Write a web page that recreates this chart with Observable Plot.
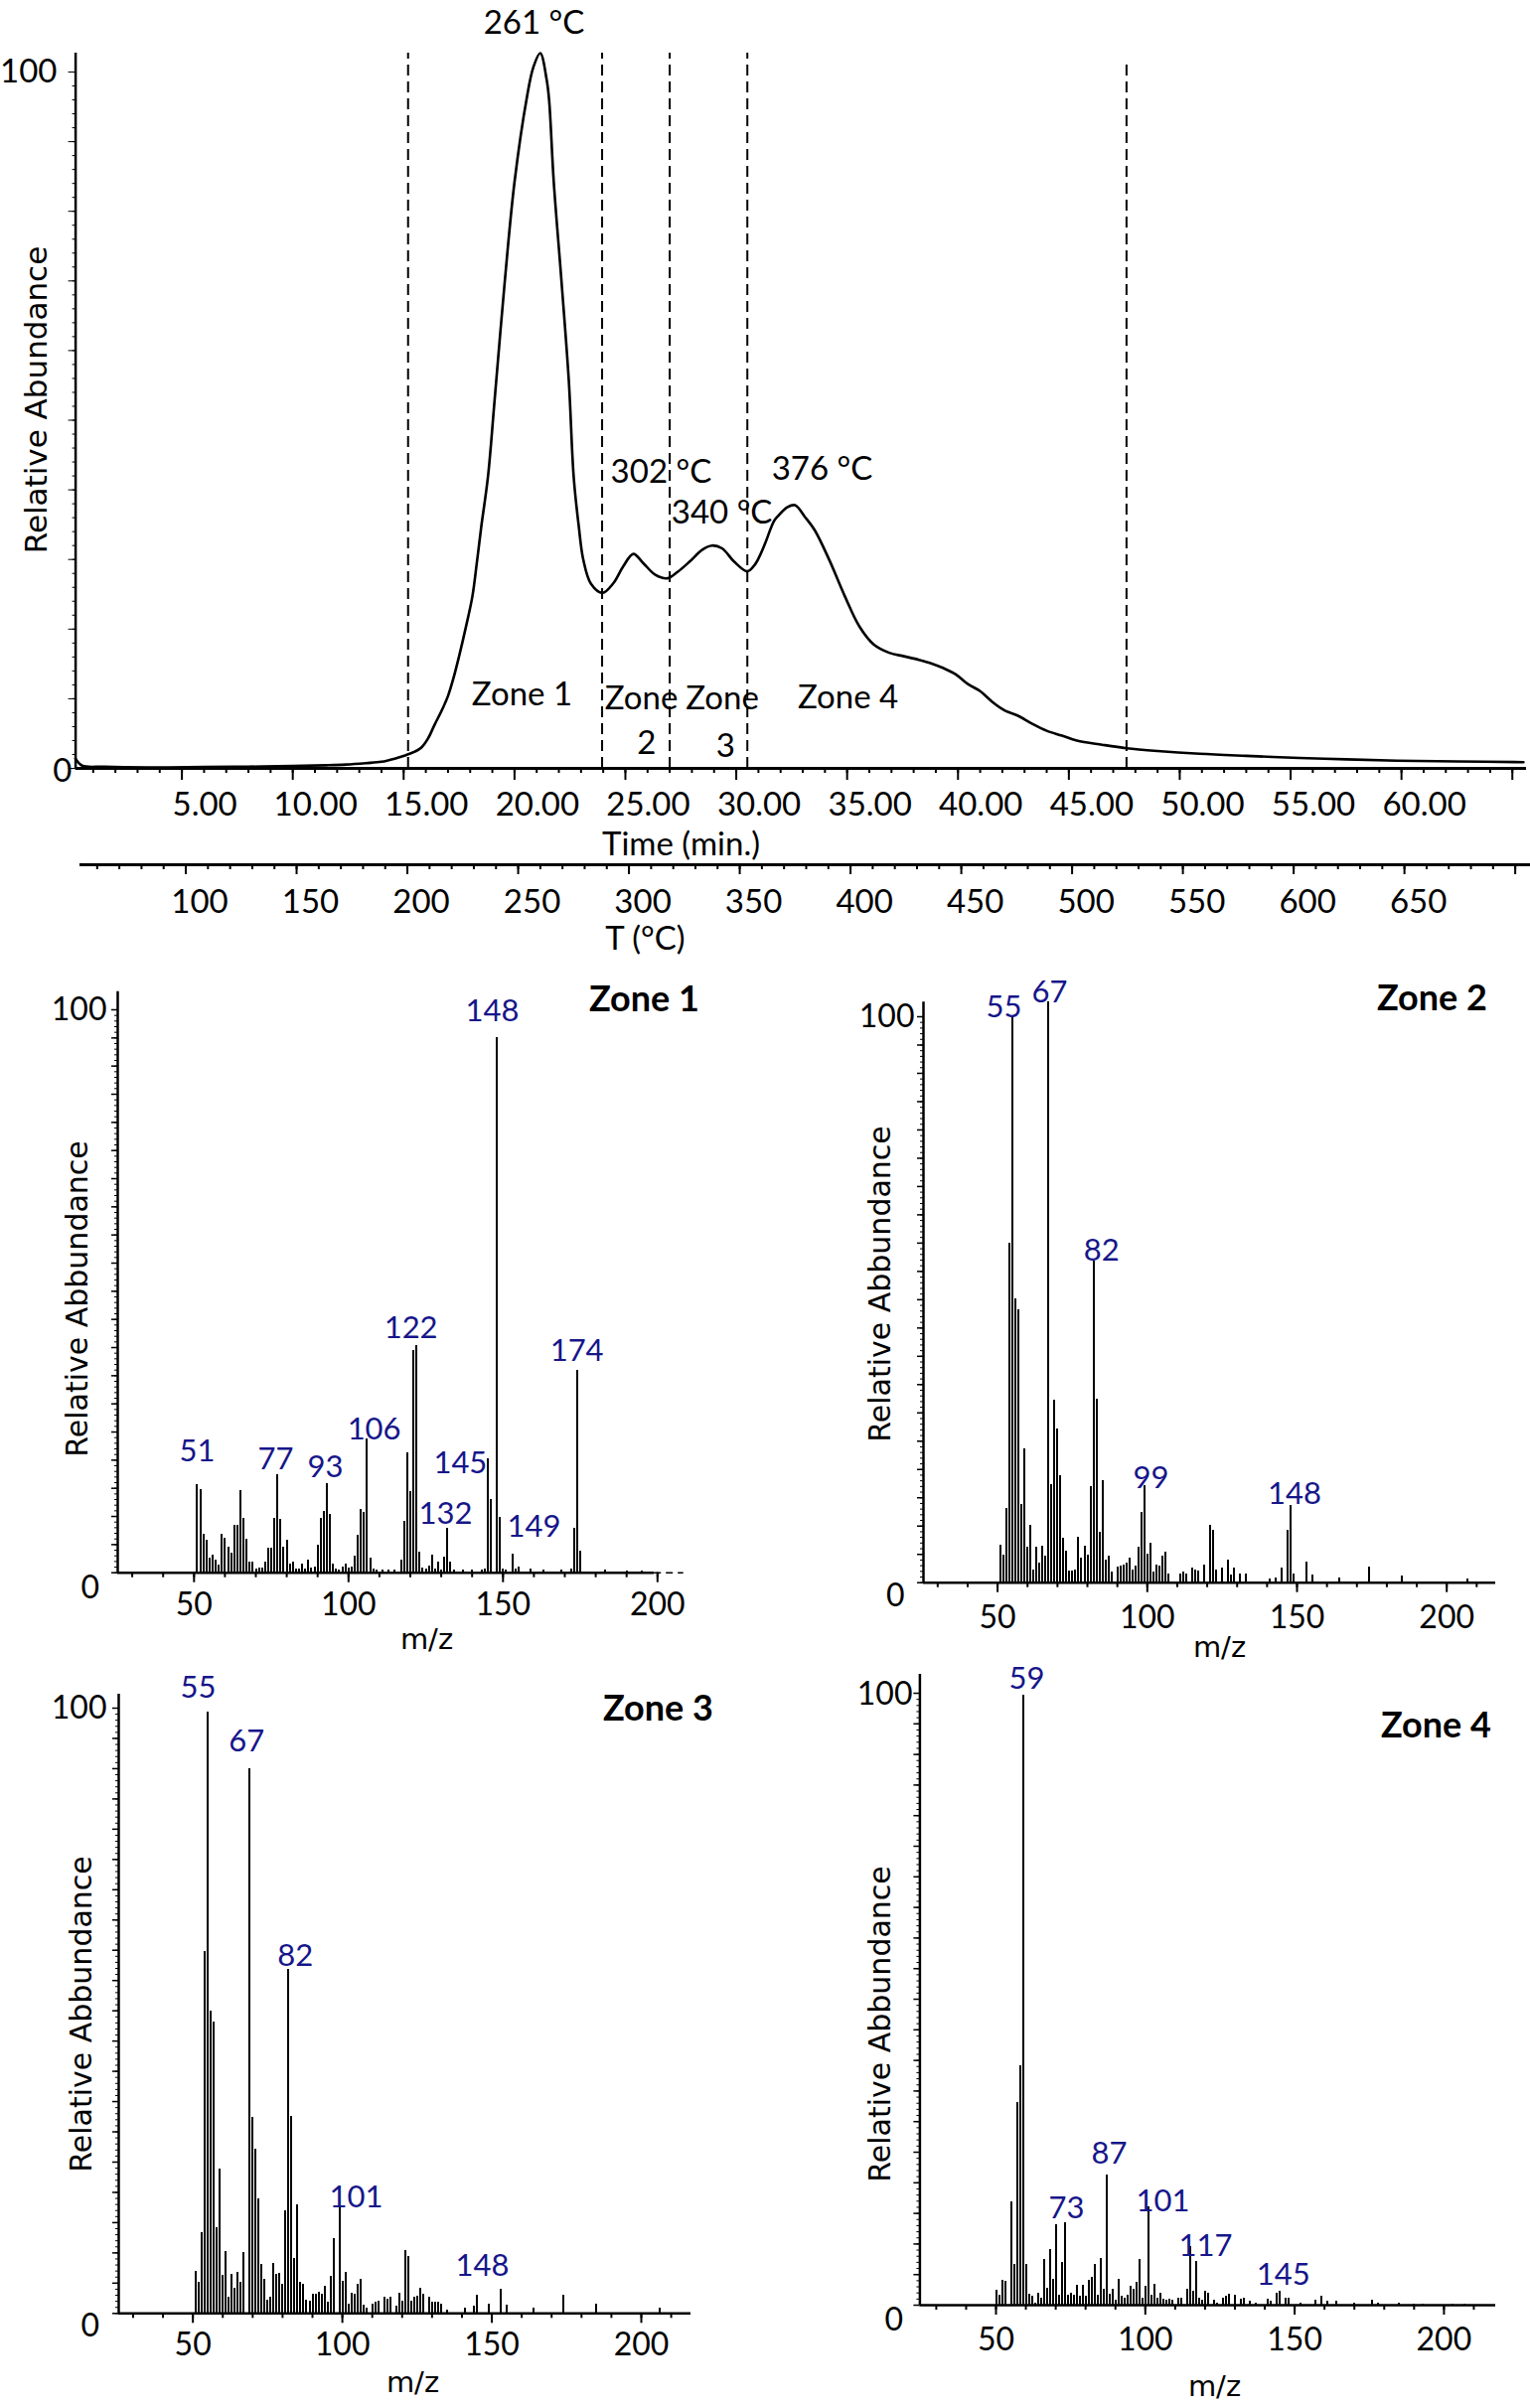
<!DOCTYPE html>
<html><head><meta charset="utf-8">
<script src="https://cdn.jsdelivr.net/npm/d3@7"></script>
<script src="https://cdn.jsdelivr.net/npm/@observablehq/plot@0.6"></script>
<style>
body{margin:0;background:#fff}
#root{position:relative;width:1540px;height:2424px;background:#fff;overflow:hidden}
</style></head><body><div id="root"></div>
<script>
// ---------------- DATA ----------------
// Thermogram (relative abundance vs time)
const chromTime = [0.2,0.5,1.5,3.5,6,8,10,11.5,12.4,13.3,14.0,14.6,15.1,15.5,15.8,16.1,16.4,16.7,17.0,17.25,17.5,17.8,18.1,18.3,18.5,18.8,19.1,19.56,20.0,20.56,20.85,21.16,21.45,21.56,21.77,22.12,22.45,22.67,22.9,23.1,23.45,23.97,24.46,24.9,25.36,25.8,26.35,26.9,27.35,27.9,28.47,28.9,29.36,29.9,30.5,30.85,31.1,31.3,31.7,31.9,32.3,32.65,33.1,33.54,34.2,34.9,35.55,36.2,36.9,37.56,38.23,38.78,39.34,39.9,40.45,41.0,41.57,42.12,42.68,43.35,44.0,44.69,45.36,46.5,47.6,49.0,50.9,53.0,55.4,57.5,59.8,62.5,65.5];
const chromAbund = [1.4,0.4,0.25,0.15,0.2,0.25,0.35,0.45,0.55,0.75,0.95,1.4,1.9,2.4,3.0,4.3,6.3,8.2,10.4,13.0,16.1,20.2,24.7,29.5,34.7,41.8,52.8,69.9,84.2,96.4,100.7,102.7,98.9,96.0,84.2,69.9,55.6,41.8,34.7,30.0,26.5,25.2,26.6,29.0,30.8,29.5,27.8,27.3,28.2,29.7,31.4,32.0,31.6,29.7,28.3,29.3,30.8,32.3,35.5,36.3,37.5,37.8,36.1,34.2,29.9,24.7,20.4,17.8,16.6,16.1,15.6,15.1,14.4,13.5,12.1,11.1,9.5,8.3,7.6,6.4,5.4,4.7,4.0,3.4,2.9,2.5,2.1,1.8,1.5,1.3,1.1,1.0,0.9];
const zoneBoundTime = [15.2, 23.95, 27.0, 30.5, 47.6];
const zoneBoundTop  = [102.7, 102.7, 102.7, 102.7, 101.0];
const peakTempText = ["261 °C","302 °C","340 °C","376 °C"];
const peakTempTime = [20.88, 26.61, 29.35, 33.87];
const peakTempAbund = [107.0, 42.5, 36.7, 42.9];
const zoneNoteText = ["Zone 1","Zone","2","Zone","3","Zone 4"];
const zoneNoteTime = [20.34, 25.72, 25.96, 29.37, 29.52, 35.04];
const zoneNoteAbund = [10.56, 10.06, 3.57, 10.06, 3.14, 10.13];
const timeTickLabels = [5,10,15,20,25,30,35,40,45,50,55,60];
const timeMajorTicks = [5,10,15,20,25,30,35,40,45,50,55,60,65];
const tempTickLabels = [100,150,200,250,300,350,400,450,500,550,600,650];
const tempMajorTicks = [100,150,200,250,300,350,400,450,500,550,600,650,700];
const chromYTickLabels = [0, 100];
const mzTickLabels = [50, 100, 150, 200];

// Mass spectra
const zone1Mz = [51,52,53,54,55,56,57,58,59,60,61,62,63,64,65,66,67,68,69,70,71,72,73,74,75,76,77,78,79,80,81,82,83,84,85,86,87,88,89,90,91,92,93,94,95,96,97,98,99,100,101,102,103,104,105,106,107,108,109,111,113,115,117,118,119,120,121,122,123,124,125,126,127,128,129,130,131,132,133,134,137,140,143,144,145,146,148,149,150,151,153,154,155,159,163,169,172,173,174,175,183,190,195];
const zone1Abund = [15.6,14.8,6.8,5.7,2.6,3.2,2.3,1.4,6.8,6.1,4.6,3.5,8.5,8.5,14.6,9.6,6.0,1.8,1.8,0.7,0.8,0.8,1.8,4.4,4.4,9.6,17.4,9.5,4.6,5.8,1.6,1.8,0.7,0.7,1.6,0.6,2.3,0.8,1.0,4.9,9.6,10.9,15.9,10.4,1.6,0.6,0.5,1.0,1.6,0.8,1.0,2.9,6.7,11.3,10.7,23.7,2.6,0.7,0.4,0.4,0.4,0.5,2.3,9.2,21.3,14.4,39.5,40.3,3.7,0.8,0.7,1.2,3.1,0.6,1.8,0.5,2.8,7.8,1.8,0.5,0.4,0.4,0.4,0.7,20.2,13.0,95.0,9.8,0.7,0.4,3.3,0.6,1.0,0.7,0.4,0.5,0.6,7.9,36.0,3.8,0.5,0.3,0.3];
const zone1LabelText = ["51","77","93","106","122","132","145","148","149","174"];
const zone1LabelMz = [51.0,76.4,92.5,108.3,120.2,131.4,136.2,146.5,160.0,173.9];
const zone1LabelAbund = [21.5,20.1,18.8,25.5,43.4,10.4,19.4,99.8,8.1,39.3];

const zone2Mz = [51,52,53,54,55,56,57,58,59,60,61,62,63,64,65,66,67,68,69,70,71,72,73,74,75,76,77,78,79,80,81,82,83,84,85,86,87,88,90,91,92,93,94,95,96,97,98,99,100,101,102,103,104,105,106,107,111,112,113,115,116,117,119,121,122,123,125,127,128,129,131,133,141,143,145,147,148,149,153,155,164,174,185,207];
const zone2Abund = [6.7,4.9,13.1,59.9,99.8,50.1,48.2,13.9,23.7,6.2,10.1,2.2,6.3,3.4,6.4,4.7,102.6,17.4,32.2,27.2,18.9,7.8,5.6,2.1,2.1,2.2,8.0,4.3,6.4,4.8,17.0,56.8,32.5,8.9,18.1,3.9,4.7,1.9,2.8,3.0,3.1,3.5,4.3,2.3,3.0,6.2,12.4,17.2,5.0,6.9,1.9,3.1,3.0,4.7,5.4,1.6,1.6,1.9,1.5,2.5,2.2,2.1,3.1,10.2,9.3,2.2,2.6,3.9,1.3,2.5,1.6,1.6,0.6,0.9,2.6,9.3,13.7,1.6,3.7,1.4,0.8,2.7,1.2,0.6];
const zone2LabelText = ["55","67","82","99","148"];
const zone2LabelMz = [52.1,67.4,84.7,101.2,149.2];
const zone2LabelAbund = [101.6,104.2,58.6,18.4,15.6];

const zone3Mz = [51,52,53,54,55,56,57,58,59,60,61,62,63,64,65,66,67,69,70,71,72,73,74,75,76,77,78,79,80,81,82,83,84,85,86,87,88,89,90,91,92,93,94,95,96,97,99,100,101,102,103,104,105,106,107,108,110,111,112,114,115,116,118,119,120,121,122,123,124,125,126,127,129,130,131,132,133,135,141,144,145,149,153,155,164,174,185,206];
const zone3Abund = [6.9,5.1,13.3,59.8,99.4,49.9,48.1,14.1,23.8,6.3,10.2,2.6,6.5,4.2,6.7,5.1,10.0,90.0,32.3,27.2,19.0,8.1,5.6,2.2,2.6,8.2,6.5,6.6,4.8,17.0,56.8,32.5,9.0,18.0,5.1,4.8,2.2,2.1,3.2,3.1,3.5,3.1,4.4,1.8,6.1,12.4,17.4,5.3,6.7,1.6,3.4,3.1,4.8,5.6,1.4,0.8,1.6,1.9,2.1,2.6,2.3,2.6,1.2,3.4,2.1,10.4,9.4,2.1,2.6,2.8,4.2,3.1,2.6,1.8,1.8,1.8,1.5,0.5,0.8,1.2,3.0,1.6,4.0,1.4,0.8,3.0,1.5,0.8];
const zone3LabelText = ["55","67","82","101","148"];
const zone3LabelMz = [51.8,68.0,84.3,104.6,146.8];
const zone3LabelAbund = [103.4,94.5,59.0,19.1,7.9];

const zone4Mz = [50,51,52,53,55,56,57,58,59,60,61,62,63,64,65,66,67,68,69,70,71,72,73,74,75,76,77,78,79,80,81,82,83,84,85,86,87,88,89,90,91,92,93,94,95,96,97,98,99,100,101,102,103,104,105,106,107,108,109,111,112,114,115,116,117,118,119,120,121,123,124,126,127,128,130,132,133,135,137,141,142,144,145,147,148,152,157,159,161,164,170,176,178,185,190,193,203,207];
const zone4Abund = [2.4,1.6,4.1,3.9,16.9,6.7,33.1,39.1,99.6,6.6,1.8,1.5,0.4,2.0,1.2,7.5,2.8,9.1,4.2,13.1,1.6,6.9,13.4,1.6,2.0,1.6,3.2,1.5,3.2,1.5,4.1,4.6,6.7,1.6,7.7,2.6,21.3,1.8,2.6,0.8,4.2,1.5,1.2,1.6,3.1,2.6,3.7,7.5,1.2,3.1,16.1,1.6,3.4,1.2,2.0,1.0,0.8,1.0,0.8,1.2,1.2,2.6,9.6,2.3,7.1,1.2,0.8,2.3,2.0,0.8,0.4,1.2,1.5,1.8,1.6,1.0,1.2,0.65,0.4,1.0,0.65,2.0,2.2,1.2,1.2,0.4,0.8,1.5,0.65,0.6,0.25,0.8,0.25,0.25,0.2,0.2,0.2,0.2];
const zone4LabelText = ["59","73","87","101","117","145"];
const zone4LabelMz = [60.3,73.6,87.9,105.9,120.2,146.2];
const zone4LabelAbund = [102.3,15.8,24.8,16.9,9.7,4.9];

// ---------------- STYLE / LAYOUT ----------------
const FONT = "Lato, 'Open Sans', sans-serif";
const VERD = "'DejaVu Sans', Verdana, sans-serif";
const BLUE = "#16168a";
const root = document.getElementById("root");
function put(svg, left, top) {
  svg.style.position = "absolute";
  svg.style.left = left + "px";
  svg.style.top = top + "px";
  root.appendChild(svg);
}
const baseStyle = {background: "transparent", fontFamily: FONT, fontSize: "33px", color: "black", overflow: "visible"};

// ---------------- THERMOGRAM ----------------
{
  const C = {left: 0, top: 0, width: 1540, height: 900, frameL: 75.6, frameR: 1536, y100: 72, y0: 773, px0: 71.0, pxPer: 22.319};
  const tDom = [(C.frameL - C.px0) / C.pxPer, (C.frameR - C.px0) / C.pxPer];
  const at = (px, py) => ({frameAnchor: "top-left", textAnchor: "middle", lineAnchor: "middle", dx: px - C.frameL, dy: py - C.y100});
  const chrom = chromTime.map((t, i) => ({t, v: chromAbund[i]}));
  const bounds = zoneBoundTime.map((t, i) => ({t, top: zoneBoundTop[i]}));
  const temps = peakTempText.map((s, i) => ({s, t: peakTempTime[i], v: peakTempAbund[i]}));
  const notes = zoneNoteText.map((s, i) => ({s, t: zoneNoteTime[i], v: zoneNoteAbund[i]}));
  const svg = Plot.plot({
    width: C.width, height: C.height,
    marginLeft: C.frameL, marginRight: C.width - C.frameR,
    marginTop: C.y100, marginBottom: C.height - C.y0,
    x: {domain: tDom, label: null},
    y: {domain: [0, 100], label: null},
    style: baseStyle,
    marks: [
      Plot.axisX({ticks: d3.range(1, 66), tickSize: 5, fill: "none", strokeWidth: 2, label: null}),
      Plot.axisX({ticks: timeMajorTicks, tickSize: 12, fill: "none", strokeWidth: 2, label: null}),
      Plot.axisX({ticks: timeTickLabels, tickSize: 0, tickPadding: 37, lineAnchor: "middle", dx: 23,
                  tickFormat: d => d.toFixed(2), fontSize: 33, label: null}),
      Plot.axisY({ticks: d3.range(0, 101, 2), tickSize: 3, fill: "none", label: null}),
      Plot.axisY({ticks: d3.range(0, 101, 10), tickSize: 7, fill: "none", label: null}),
      Plot.ruleY([0], {strokeWidth: 3}),
      Plot.ruleX([tDom[0]], {y1: 0, y2: 102.7, strokeWidth: 2.5}),
      Plot.text(chromYTickLabels.filter(d => d === 100), {x: tDom[0], y: d => d, text: d => String(d), textAnchor: "end", lineAnchor: "middle", dx: -18.6, fontSize: 33}),
      Plot.text(chromYTickLabels.filter(d => d === 0), {x: tDom[0], y: d => d, text: d => String(d), textAnchor: "end", lineAnchor: "middle", dx: -3.6, dy: 3, fontSize: 33}),
      Plot.ruleX(bounds, {x: "t", y1: 0, y2: "top", strokeWidth: 2, strokeDasharray: "11,6"}),
      Plot.line(chrom, {x: "t", y: "v", strokeWidth: 2.6, curve: "catmull-rom"}),
      Plot.text(temps, {x: "t", y: "v", text: "s", fontSize: 33}),
      Plot.text(notes, {x: "t", y: "v", text: "s", fontSize: 33}),
      Plot.text(["Time (min.)"], {...at(685, 850), fontSize: 33}),
      Plot.text(["Relative Abundance"], {...at(37, 402), rotate: -90, fontFamily: VERD, fontSize: 31})
    ]
  });
  put(svg, C.left, C.top);
}

// ---------------- TEMPERATURE AXIS ----------------
{
  const T = {left: 0, top: 840, width: 1540, height: 130, frameL: 80, frameR: 1540, lineY: 870, px0: -36.5, pxPer: 2.2302};
  const dom = [(T.frameL - T.px0) / T.pxPer, (T.frameR - T.px0) / T.pxPer];
  const svg = Plot.plot({
    width: T.width, height: T.height,
    marginLeft: T.frameL, marginRight: T.width - T.frameR,
    marginTop: 0, marginBottom: T.top + T.height - T.lineY,
    x: {domain: dom, label: null},
    y: {domain: [0, 1], axis: null},
    style: baseStyle,
    marks: [
      Plot.axisX({ticks: d3.range(60, 701, 10), tickSize: 5, fill: "none", strokeWidth: 2, label: null}),
      Plot.axisX({ticks: tempMajorTicks, tickSize: 10, fill: "none", strokeWidth: 2, label: null}),
      Plot.axisX({ticks: tempTickLabels, tickSize: 0, tickPadding: 38, lineAnchor: "middle", dx: 14,
                  tickFormat: d => String(d), fontSize: 33, label: null}),
      Plot.ruleY([0], {strokeWidth: 3}),
      Plot.text(["T (°C)"], {frameAnchor: "top-left", textAnchor: "middle", lineAnchor: "middle", dx: 649 - T.frameL, dy: 945 - T.top, fontSize: 33})
    ]
  });
  put(svg, T.left, T.top);
}

// ---------------- MASS SPECTRA ----------------
function spectrum(p) {
  const mzL = (p.axisX - p.px0) / p.pxPer, mzR = (p.rightX - p.px0) / p.pxPer;
  const at = (px, py) => ({frameAnchor: "top-left", textAnchor: "middle", lineAnchor: "middle", dx: px - p.axisX, dy: py - p.y100});
  const peaks = p.mz.map((m, i) => ({mz: m, v: p.ab[i]}));
  const labs = p.labText.map((s, i) => ({s, mz: p.labMz[i], v: p.labAb[i]}));
  const solidEnd = p.solidEnd ?? mzR;
  const svg = Plot.plot({
    width: p.width, height: p.height,
    marginLeft: p.axisX - p.left, marginRight: p.left + p.width - p.rightX,
    marginTop: p.y100 - p.top, marginBottom: p.top + p.height - p.y0,
    x: {domain: [mzL, mzR], label: null},
    y: {domain: [0, 100], label: null},
    style: baseStyle,
    marks: [
      Plot.ruleX(peaks, {x: "mz", y1: 0, y2: "v", strokeWidth: 2, shapeRendering: "crispEdges"}),
      Plot.axisX({ticks: d3.range(30, 211, 10).filter(d => d > mzL && d < mzR), tickSize: 5, fill: "none", strokeWidth: 2, label: null}),
      Plot.axisX({ticks: mzTickLabels, tickSize: 10, fill: "none", strokeWidth: 2, label: null}),
      Plot.axisX({ticks: mzTickLabels, tickSize: 0, tickPadding: p.tickLabY - p.y0, lineAnchor: "middle",
                  tickFormat: d => String(d), fontSize: 32, label: null}),
      Plot.axisY({ticks: d3.range(0, 101, 1), tickSize: 3, fill: "none", strokeWidth: 1, label: null}),
      Plot.axisY({ticks: d3.range(0, 101, 5), tickSize: 6, fill: "none", strokeWidth: 1.5, label: null}),
      Plot.ruleY([0], {x1: mzL, x2: solidEnd, strokeWidth: 2.5}),
      p.solidEnd ? Plot.ruleY([0], {x1: solidEnd, x2: mzR, strokeWidth: 1.5, strokeDasharray: "7,5"}) : null,
      Plot.ruleX([mzL], {y1: 0, y2: p.axisTop, strokeWidth: 2.5}),
      Plot.text(["100"], {...at(p.lab100[0], p.lab100[1]), textAnchor: "end", fontSize: 32}),
      Plot.text(["0"], {...at(p.lab0[0], p.lab0[1]), textAnchor: "end", fontSize: 32}),
      Plot.text(labs, {x: "mz", y: "v", text: "s", fill: BLUE, fontSize: 31}),
      Plot.text([p.title], {...at(p.titleXY[0], p.titleXY[1]), fontWeight: "bold", fontSize: 36}),
      Plot.text(["Relative Abbundance"], {...at(p.ylabXY[0], p.ylabXY[1]), rotate: -90, fontFamily: VERD, fontSize: 30}),
      Plot.text(["m/z"], {...at(p.mzXY[0], p.mzXY[1]), fontFamily: VERD, fontSize: 29})
    ]
  });
  put(svg, p.left, p.top);
}

spectrum({title: "Zone 1", mz: zone1Mz, ab: zone1Abund, labText: zone1LabelText, labMz: zone1LabelMz, labAb: zone1LabelAbund,
  left: 0, top: 960, width: 770, height: 740, axisX: 118, rightX: 687.7, px0: 39.3, pxPer: 3.11,
  y0: 1582.7, y100: 1016, axisTop: 103.2, solidEnd: 199,
  titleXY: [648, 1006], ylabXY: [78, 1307], mzXY: [429, 1650], tickLabY: 1615, lab100: [107, 1016], lab0: [99.5, 1598]});

spectrum({title: "Zone 2", mz: zone2Mz, ab: zone2Abund, labText: zone2LabelText, labMz: zone2LabelMz, labAb: zone2LabelAbund,
  left: 780, top: 960, width: 760, height: 740, axisX: 929, rightX: 1505, px0: 852.9, pxPer: 3.014,
  y0: 1592.7, y100: 1023, axisTop: 102.6,
  titleXY: [1441, 1005], ylabXY: [886, 1292], mzXY: [1227, 1658], tickLabY: 1628, lab100: [920, 1023], lab0: [910, 1606]});

spectrum({title: "Zone 3", mz: zone3Mz, ab: zone3Abund, labText: zone3LabelText, labMz: zone3LabelMz, labAb: zone3LabelAbund,
  left: 0, top: 1640, width: 770, height: 784, axisX: 119, rightX: 695, px0: 43.2, pxPer: 3.009,
  y0: 2328.3, y100: 1719, axisTop: 102.3,
  titleXY: [662, 1720], ylabXY: [82, 2027], mzXY: [415, 2398], tickLabY: 2360, lab100: [107, 1719], lab0: [99.5, 2341]});

spectrum({title: "Zone 4", mz: zone4Mz, ab: zone4Abund, labText: zone4LabelText, labMz: zone4LabelMz, labAb: zone4LabelAbund,
  left: 780, top: 1640, width: 760, height: 784, axisX: 925.4, rightX: 1505, px0: 851.7, pxPer: 3.006,
  y0: 2320, y100: 1704, axisTop: 103.1,
  titleXY: [1445, 1737], ylabXY: [886, 2037], mzXY: [1222, 2402], tickLabY: 2355, lab100: [918, 1705], lab0: [908.5, 2335]});
</script></body></html>
